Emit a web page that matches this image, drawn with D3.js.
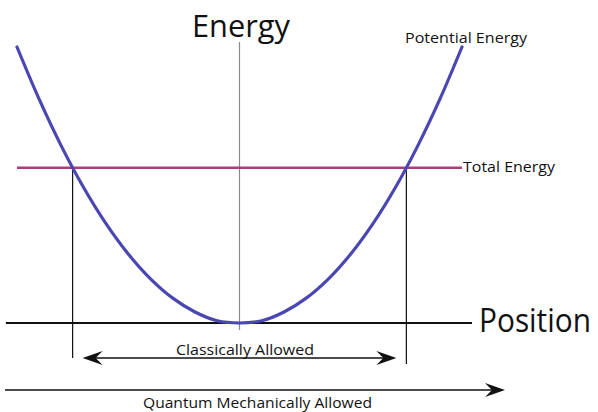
<!DOCTYPE html>
<html>
<head>
<meta charset="utf-8">
<script src="https://cdn.jsdelivr.net/npm/d3@7"></script>
<style>
  body { margin: 0; background: #fff; }
  text { font-family: "Open Sans", "DejaVu Sans", sans-serif; fill: #111; }
</style>
</head>
<body>
<svg id="chart" width="598" height="412"></svg>
<script>
// position (scaled so the curve ends at +-1) and potential energy
const positions = [-1.0, -0.9, -0.8, -0.7, -0.6, -0.5, -0.4, -0.3, -0.2, -0.1, 0.0,
                    0.1, 0.2, 0.3, 0.4, 0.5, 0.6, 0.7, 0.8, 0.9, 1.0]
const potential = [1.0, 0.81, 0.64, 0.49, 0.36, 0.25, 0.16, 0.09, 0.04, 0.008, 0.0,
                   0.008, 0.04, 0.09, 0.16, 0.25, 0.36, 0.49, 0.64, 0.81, 1.0]
const totalEnergy = 0.5625
const turningPoints = [-0.75, 0.75]
const labels = {
  yAxis: "Energy",
  xAxis: "Position",
  curve: "Potential Energy",
  total: "Total Energy",
  classical: "Classically Allowed",
  quantum: "Quantum Mechanically Allowed"
}

const svg = d3.select('#chart')

const x = d3.scaleLinear().domain([-1, 1]).range([17, 462])
const y = d3.scaleLinear().domain([0, 1]).range([323, 47])

const pts = positions.map((p, i) => ({ p, v: potential[i] }))

// vertical energy axis (thin grey)
svg.append('line')
  .attr('x1', x(0)).attr('x2', x(0))
  .attr('y1', 42).attr('y2', 330)
  .attr('stroke', '#8a8a8a').attr('stroke-width', 1.2)

// position axis
svg.append('line')
  .attr('x1', x(-1.05)).attr('x2', x(1.045))
  .attr('y1', y(0)).attr('y2', y(0))
  .attr('stroke', '#111').attr('stroke-width', 2)

// total energy line
svg.append('line')
  .attr('x1', x(-1)).attr('x2', x(1.0))
  .attr('y1', y(totalEnergy)).attr('y2', y(totalEnergy))
  .attr('stroke', '#a5407c').attr('stroke-width', 2.5)

// turning point drop lines
svg.append('g').selectAll('line')
  .data(turningPoints)
  .join('line')
  .attr('x1', d => x(d)).attr('x2', d => x(d))
  .attr('y1', y(totalEnergy))
  .attr('y2', (d, i) => i === 0 ? 358 : 364)
  .attr('stroke', '#111').attr('stroke-width', 1.2)

// potential energy curve
svg.append('path')
  .datum(pts)
  .attr('fill', 'none')
  .attr('stroke', '#4a47b3')
  .attr('stroke-width', 3.2)
  .attr('stroke-linecap', 'round')
  .attr('d', d3.line().x(d => x(d.p)).y(d => y(d.v)).curve(d3.curveCatmullRom))

// barbed arrowhead pointing along +x at (tx, ty) when dir = 1
function head(tx, ty, dir) {
  const L = 20, W = 7, back = 13
  return `M${tx},${ty} L${tx - dir * L},${ty - W} L${tx - dir * back},${ty} L${tx - dir * L},${ty + W} Z`
}

// classically allowed double arrow
const cy = 358
const cx1 = x(turningPoints[0]) + 10, cx2 = x(turningPoints[1]) - 10
svg.append('line')
  .attr('x1', cx1 + 10).attr('x2', cx2 - 10)
  .attr('y1', cy).attr('y2', cy)
  .attr('stroke', '#111').attr('stroke-width', 1.5)
svg.append('path').attr('d', head(cx1, cy, -1)).attr('fill', '#111')
svg.append('path').attr('d', head(cx2, cy, 1)).attr('fill', '#111')

// quantum mechanically allowed arrow
const qy = 390
svg.append('line')
  .attr('x1', 5).attr('x2', 495)
  .attr('y1', qy).attr('y2', qy)
  .attr('stroke', '#111').attr('stroke-width', 1.5)
svg.append('path').attr('d', head(505, qy, 1)).attr('fill', '#111')

// texts
const txt = (s, tx, ty, size, len) => svg.append('text')
  .attr('x', tx).attr('y', ty)
  .attr('font-size', size)
  .attr('textLength', len)
  .attr('lengthAdjust', 'spacingAndGlyphs')
  .text(s)

txt(labels.yAxis, 192, 37, 31, 98)
txt(labels.xAxis, 479, 332, 32, 112)
txt(labels.curve, 405, 43, 15, 122)
txt(labels.total, 463, 172, 15, 92)
txt(labels.classical, 176, 355, 15, 138)
txt(labels.quantum, 143, 408, 14.5, 229)
</script>
</body>
</html>
